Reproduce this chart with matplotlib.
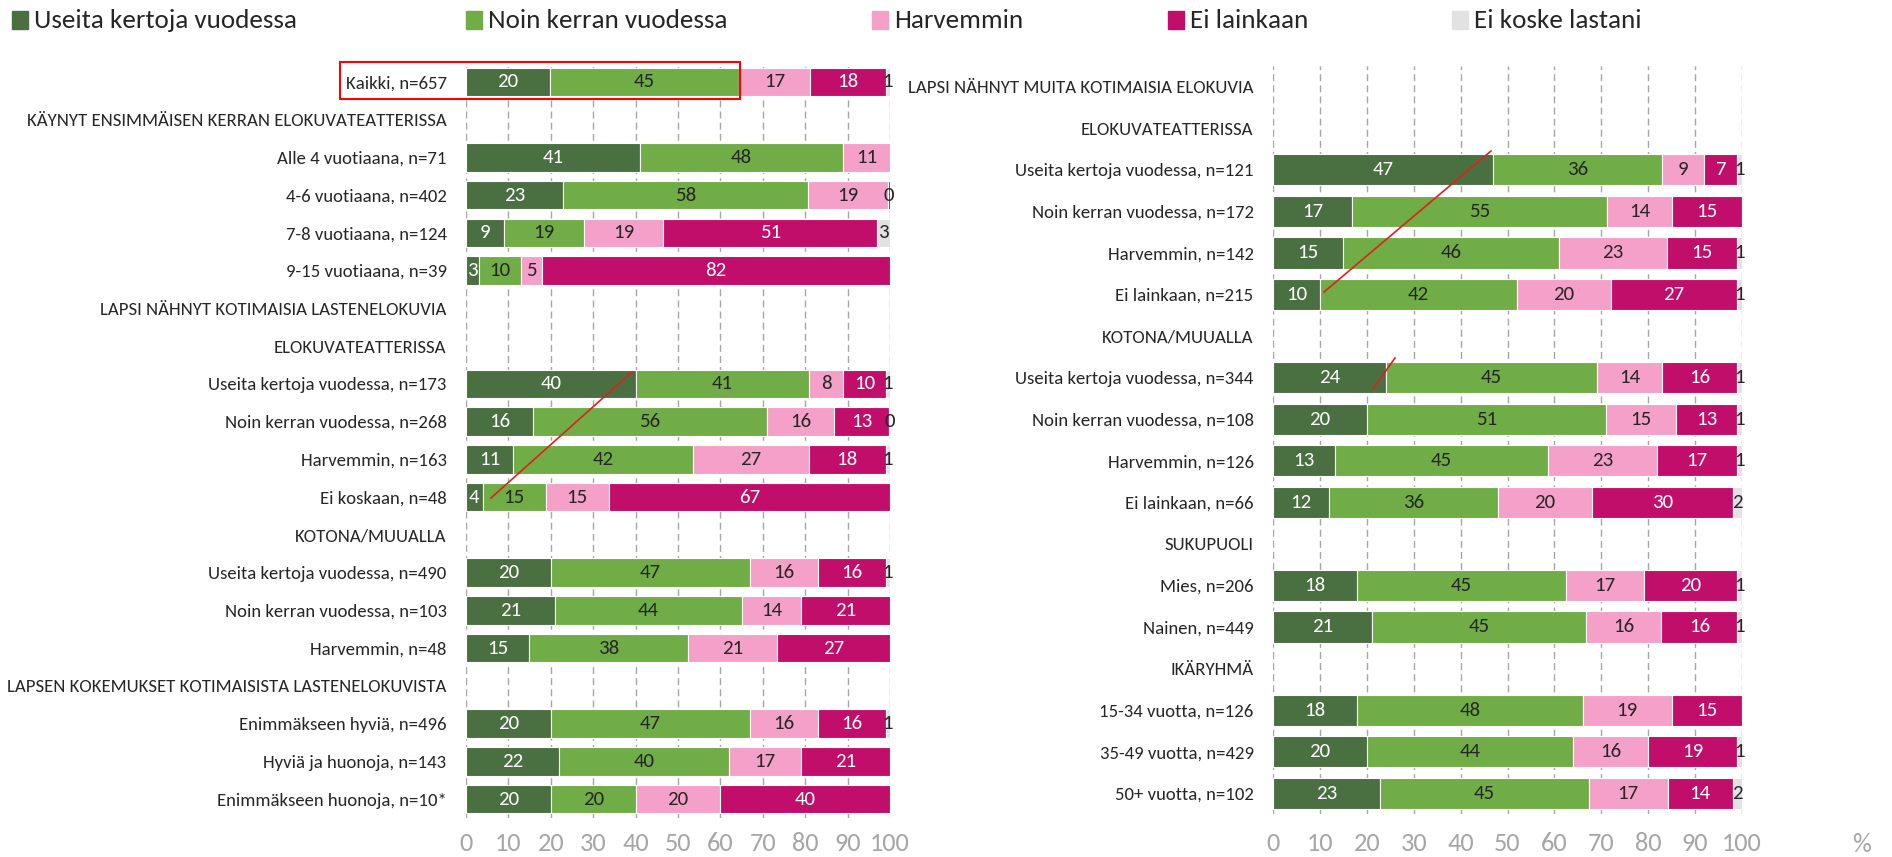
import matplotlib
matplotlib.use("Agg")
import matplotlib.pyplot as plt
from matplotlib.patches import Rectangle
from matplotlib.lines import Line2D

plt.rcParams['font.family'] = ['Carlito', 'DejaVu Sans']

series = ["Useita kertoja vuodessa", "Noin kerran vuodessa", "Harvemmin", "Ei lainkaan", "Ei koske lastani"]
colors = ["#4A7041", "#70AD47", "#F4A0C8", "#C20E6B", "#E2E2E2"]
text_colors = ["white", "#262626", "#262626", "white", "#262626"]

# Left panel (None = header row)
left_labels = [
    "Kaikki, n=657",
    "KÄYNYT ENSIMMÄISEN KERRAN ELOKUVATEATTERISSA",
    "Alle 4 vuotiaana, n=71",
    "4-6 vuotiaana, n=402",
    "7-8 vuotiaana, n=124",
    "9-15 vuotiaana, n=39",
    "LAPSI NÄHNYT KOTIMAISIA LASTENELOKUVIA",
    "ELOKUVATEATTERISSA",
    "Useita kertoja vuodessa, n=173",
    "Noin kerran vuodessa, n=268",
    "Harvemmin, n=163",
    "Ei koskaan, n=48",
    "KOTONA/MUUALLA",
    "Useita kertoja vuodessa, n=490",
    "Noin kerran vuodessa, n=103",
    "Harvemmin, n=48",
    "LAPSEN KOKEMUKSET KOTIMAISISTA LASTENELOKUVISTA",
    "Enimmäkseen hyviä, n=496",
    "Hyviä ja huonoja, n=143",
    "Enimmäkseen huonoja, n=10*",
]
left_values = [
    [20, 45, 17, 18, 1],
    None,
    [41, 48, 11, 0, 0],
    [23, 58, 19, 0.4, 0],
    [9, 19, 19, 51, 3],
    [3, 10, 5, 82, 0],
    None,
    None,
    [40, 41, 8, 10, 1],
    [16, 56, 16, 13, 0.3],
    [11, 42, 27, 18, 1],
    [4, 15, 15, 67, 0],
    None,
    [20, 47, 16, 16, 1],
    [21, 44, 14, 21, 0],
    [15, 38, 21, 27, 0],
    None,
    [20, 47, 16, 16, 1],
    [22, 40, 17, 21, 0],
    [20, 20, 20, 40, 0],
]

right_labels = [
    "LAPSI NÄHNYT MUITA KOTIMAISIA ELOKUVIA",
    "ELOKUVATEATTERISSA",
    "Useita kertoja vuodessa, n=121",
    "Noin kerran vuodessa, n=172",
    "Harvemmin, n=142",
    "Ei lainkaan, n=215",
    "KOTONA/MUUALLA",
    "Useita kertoja vuodessa, n=344",
    "Noin kerran vuodessa, n=108",
    "Harvemmin, n=126",
    "Ei lainkaan, n=66",
    "SUKUPUOLI",
    "Mies, n=206",
    "Nainen, n=449",
    "IKÄRYHMÄ",
    "15-34 vuotta, n=126",
    "35-49 vuotta, n=429",
    "50+ vuotta, n=102",
]
right_values = [
    None,
    None,
    [47, 36, 9, 7, 1],
    [17, 55, 14, 15, 0],
    [15, 46, 23, 15, 1],
    [10, 42, 20, 27, 1],
    None,
    [24, 45, 14, 16, 1],
    [20, 51, 15, 13, 1],
    [13, 45, 23, 17, 1],
    [12, 36, 20, 30, 2],
    None,
    [18, 45, 17, 20, 1],
    [21, 45, 16, 16, 1],
    None,
    [18, 48, 19, 15, 0],
    [20, 44, 16, 19, 1],
    [23, 45, 17, 14, 2],
]

xticks = [0, 10, 20, 30, 40, 50, 60, 70, 80, 90, 100]

W, H = 1892, 857
fig = plt.figure(figsize=(W / 100, H / 100), dpi=100)

def px_axes(x0, x1, ytop, ybot):
    return fig.add_axes([x0 / W, 1 - ybot / H, (x1 - x0) / W, (ybot - ytop) / H])

def draw_panel(ax, labels, values, pad):
    n = len(labels)
    for i, vals in enumerate(values):
        if vals is None:
            continue
        tot = sum(vals)
        left = 0.0
        for k, v in enumerate(vals):
            w = v / tot * 100
            if v > 0:
                ax.barh(i, w, left=left, height=0.75, color=colors[k],
                        edgecolor="white", linewidth=0.8, zorder=3)
                tc = text_colors[k] if v >= 1 else "#262626"
                ax.text(left + w / 2, i, f"{v:.0f}", ha="center", va="center",
                        color=tc, fontsize=15, zorder=4)
            left += w
    ax.set_xlim(0, 100)
    ax.set_ylim(n - 0.5, -0.5)
    ax.set_yticks(range(n))
    ax.set_yticklabels(labels, fontsize=13.5, color="#262626")
    ax.set_xticks(xticks)
    ax.set_xticklabels([str(t) for t in xticks], fontsize=19, color="#A6A6A6")
    ax.tick_params(axis="y", length=0, pad=14)
    ax.tick_params(axis="x", length=0, pad=pad)
    for s in ax.spines.values():
        s.set_visible(False)
    ax.grid(axis="x", color="#A6A6A6", linestyle=(0, (5, 3)), linewidth=1, zorder=0)
    ax.set_axisbelow(True)

axL = px_axes(466, 890, 63, 818)
draw_panel(axL, left_labels, left_values, 10)
axR = px_axes(1273, 1742, 66, 814)
draw_panel(axR, right_labels, right_values, 13)

fig.text(1862 / W, 1 - 845 / H, "%", fontsize=19, color="#A6A6A6", ha="center", va="center")

# Legend
leg_x = [12, 466, 872, 1168, 1452]
for xs, name, c in zip(leg_x, series, colors):
    fig.patches.append(Rectangle((xs / W, 1 - 29 / H), 16 / W, 18 / H,
                                 transform=fig.transFigure, color=c, figure=fig))
    fig.text((xs + 22) / W, 1 - 20 / H, name, fontsize=19.5, color="#262626",
             ha="left", va="center")

# Red annotations
fig.patches.append(Rectangle((340 / W, 1 - 99 / H), 400 / W, 37 / H, transform=fig.transFigure,
                             fill=False, edgecolor="#FF0000", linewidth=1.5, figure=fig))
for (xa, ya, xb, yb) in [(491, 498, 632, 372), (1324, 292, 1491, 151), (1373, 389, 1395, 358)]:
    fig.lines.append(Line2D([xa / W, xb / W], [1 - ya / H, 1 - yb / H], transform=fig.transFigure,
                            color="#E0201E", linewidth=1.2, figure=fig, zorder=10))

fig.savefig("out.png", dpi=100)
